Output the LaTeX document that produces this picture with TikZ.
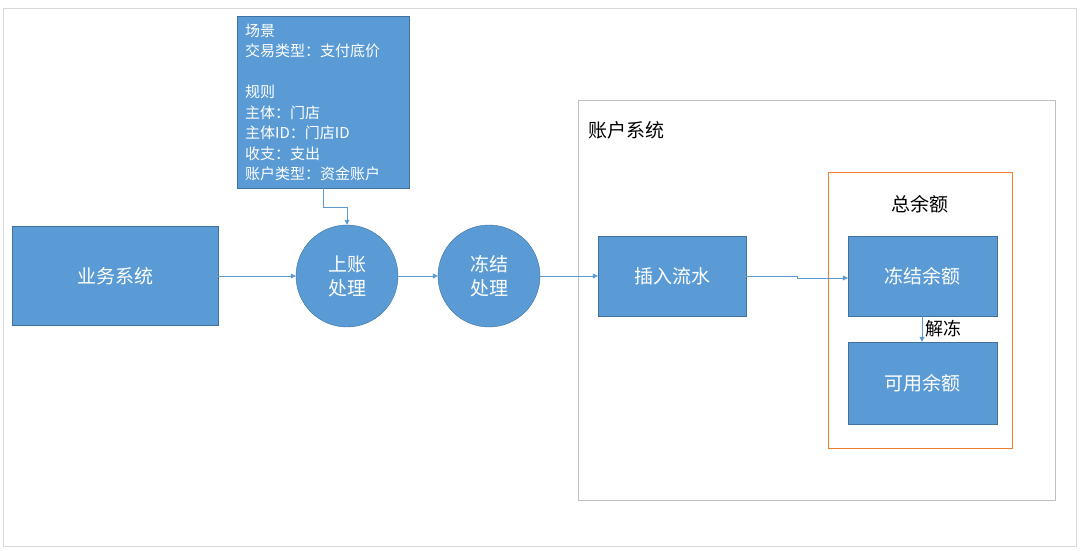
\documentclass[tikz,border=0pt]{standalone}
\usepackage{fontspec}
\setmainfont{Noto Sans CJK SC}
\usetikzlibrary{arrows.meta}
\definecolor{boxblue}{HTML}{5B9BD5}
\definecolor{edgeblue}{HTML}{41719C}
\definecolor{framegray}{HTML}{BFBFBF}
\definecolor{frameorange}{HTML}{ED7D31}
\tikzset{
  blockbox/.style={draw=edgeblue,fill=boxblue,text=white,font=\fontsize{19}{24}\selectfont},
  flow/.style={draw=boxblue,-{Triangle[length=5pt,width=5pt]}},
}
\begin{document}
\begin{tikzpicture}[x=1pt,y=-1pt]

		\useasboundingbox (0,0) rectangle (1080,550);
		\draw[framegray!60] (3,8) rectangle (1076,546);

		% left part
		\node[blockbox,minimum width=206pt,minimum height=99pt] (biz) at (115,276) {业务系统};
		\node[blockbox,circle,minimum size=102pt,inner sep=0pt,align=center] (post) at (347,276) {上账\\处理};
		\node[blockbox,circle,minimum size=102pt,inner sep=0pt,align=center] (freeze) at (489,276) {冻结\\处理};
		\node[blockbox,anchor=north west,minimum width=172pt,minimum height=172pt,text width=156pt,align=left,
		      inner xsep=8pt,inner ysep=4pt,font=\fontsize{15}{20.5}\selectfont] (note) at (237,16)
		      {场景\\交易类型：支付底价\\[20.5pt]规则\\主体：门店\\主体ID：门店ID\\收支：支出\\账户类型：资金账户};

		% account system
		\draw[framegray] (578,100) rectangle (1055,500);
		\node[anchor=west,font=\fontsize{19}{22}\selectfont] (acctitle) at (585,130) {账户系统};
		\node[blockbox,minimum width=148pt,minimum height=80pt] (insert) at (672,276) {插入流水};
		\draw[frameorange] (828,172) rectangle (1012,448);
		\node[font=\fontsize{19}{22}\selectfont] (total) at (920,204) {总余额};
		\node[blockbox,minimum width=149pt,minimum height=80pt] (frozen) at (922.5,276) {冻结余额};
		\node[blockbox,minimum width=149pt,minimum height=82pt] (avail) at (922.5,383) {可用余额};

		\draw[flow] (biz) -- (post);
		\draw[flow] (post) -- (freeze);
		\draw[flow] (freeze) -- (insert);
		\draw[flow] (insert.east) -- (797,276) -- (797,278) -- (frozen.west |- 0,278);
		\draw[flow] (note.south -| 323,0) -- (323,207) -- (347,207) -- (post.north);
		\draw[flow] (frozen.south -| 922,0) -- (avail.north -| 922,0)
		      node[midway,right,black,font=\fontsize{18}{20}\selectfont] {解冻};

	\end{tikzpicture}
\end{document}
